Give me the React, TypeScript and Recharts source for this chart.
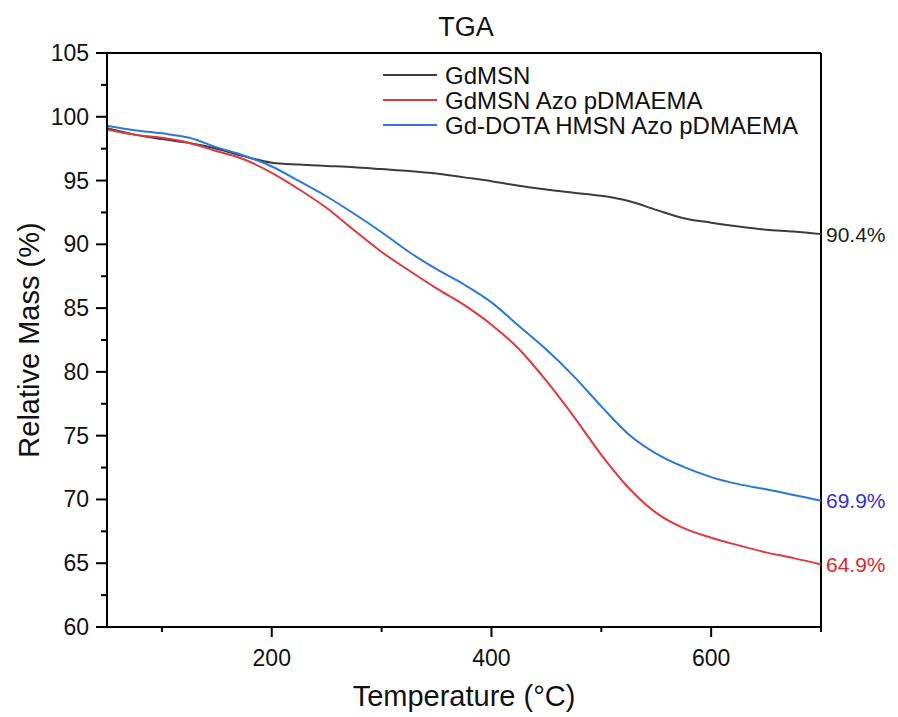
import React from "react"
import {
  LineChart,
  Line,
  XAxis,
  YAxis,
  ReferenceLine,
  ReferenceDot,
  Legend,
} from "recharts"

// temperature grid (°C)
const temps = [
  50, 75, 100, 125, 150, 175, 200, 225, 250, 275, 300, 325, 350, 375, 400,
  425, 450, 475, 500, 525, 550, 575, 600, 625, 650, 675, 700,
]

// relative mass (%)
const gdmsn = [
  99.1, 98.6, 98.25, 97.95, 97.5, 96.9, 96.4, 96.25, 96.15, 96.05, 95.9, 95.75,
  95.55, 95.25, 94.95, 94.6, 94.3, 94.05, 93.8, 93.4, 92.7, 92.05, 91.7, 91.4,
  91.15, 91.0, 90.8,
]
const gdmsnAzo = [
  99.0, 98.6, 98.35, 97.95, 97.3, 96.65, 95.6, 94.3, 92.85, 91.1, 89.4, 87.95,
  86.55, 85.25, 83.7, 81.8, 79.3, 76.5, 73.5, 70.9, 68.95, 67.75, 67.0, 66.4,
  65.85, 65.4, 64.9,
]
const gdDota = [
  99.3, 98.95, 98.7, 98.35, 97.6, 96.95, 96.1, 94.95, 93.75, 92.4, 90.95, 89.4,
  88.05, 86.85, 85.45, 83.6, 81.75, 79.65, 77.3, 75.1, 73.6, 72.55, 71.75, 71.2,
  70.8, 70.35, 69.9,
]

const seriesNames = ["GdMSN", "GdMSN Azo pDMAEMA", "Gd-DOTA HMSN Azo pDMAEMA"]
const seriesColors = ["#3c3c3c", "#e2383b", "#2a78dc"]
const endLabels = ["90.4%", "64.9%", "69.9%"]
const endLabelColors = ["#1e1e1e", "#e0262a", "#2f2fd6"]

const xTicks = [100, 200, 300, 400, 500, 600, 700]
const xMajor = [200, 400, 600]
const yTicks = [
  60, 62.5, 65, 67.5, 70, 72.5, 75, 77.5, 80, 82.5, 85, 87.5, 90, 92.5, 95,
  97.5, 100, 102.5, 105,
]

const data = temps.map((t, i) => ({
  t,
  a: gdmsn[i],
  b: gdmsnAzo[i],
  c: gdDota[i],
}))

const FONT = '"Liberation Sans", Arial, sans-serif'

const YTick = ({ x, y, payload }: any) => {
  const major = payload.value % 5 === 0
  return (
    <g>
      <line x1={x - (major ? 11 : 6)} x2={x} y1={y} y2={y} stroke="#000" strokeWidth={2} />
      {major && (
        <text x={x - 18} y={y} textAnchor="end" dominantBaseline="central" fontSize={23} fill="#111" fontFamily={FONT}>
          {payload.value}
        </text>
      )}
    </g>
  )
}

const XTick = ({ x, y, payload }: any) => {
  const major = xMajor.includes(payload.value)
  return (
    <g>
      <line x1={x} x2={x} y1={y} y2={y + (major ? 10 : 5)} stroke="#000" strokeWidth={2} />
      {major && (
        <text x={x} y={y + 39} textAnchor="middle" fontSize={23} fill="#111" fontFamily={FONT}>
          {payload.value}
        </text>
      )}
    </g>
  )
}

const LegendBox = () => (
  <svg width={460} height={80}>
    {seriesNames.map((n, i) => (
      <g key={n}>
        <line x1={0} x2={54} y1={12 + 25 * i} y2={12 + 25 * i} stroke={seriesColors[i]} strokeWidth={2} />
        <text x={62} y={12 + 25 * i} dominantBaseline="central" fontSize={24} fill="#111" fontFamily={FONT}>
          {n}
        </text>
      </g>
    ))}
  </svg>
)

const endLabel = (i: number) => ({ viewBox }: any) => (
  <text
    x={viewBox.x + 5}
    y={viewBox.y}
    dominantBaseline="central"
    fontSize={21}
    fill={endLabelColors[i]}
    fontFamily={FONT}
  >
    {endLabels[i]}
  </text>
)

export default function App() {
  const last = temps.length - 1
  const ends = [gdmsn[last], gdmsnAzo[last], gdDota[last]]
  return (
    <div style={{ position: "absolute", left: 0, top: 0, width: 898, height: 717, background: "#fff", fontFamily: FONT }}>
      <div style={{ position: "absolute", left: 0, width: 932, top: 12, textAlign: "center", fontSize: 27, color: "#111" }}>
        TGA
      </div>
      <LineChart
        width={898}
        height={717}
        data={data}
        margin={{ top: 53, right: 77, left: 47, bottom: 30 }}
      >
        <XAxis
          dataKey="t"
          type="number"
          domain={[50, 700]}
          ticks={xTicks}
          tick={<XTick />}
          tickSize={0}
          tickMargin={0}
          tickLine={false}
          height={60}
          axisLine={{ stroke: "#000", strokeWidth: 2 }}
          label={{
            content: ({ viewBox }: any) => (
              <text x={viewBox.x + viewBox.width / 2} y={706} textAnchor="middle" fontSize={29} fill="#111" fontFamily={FONT}>
                Temperature (°C)
              </text>
            ),
          }}
        />
        <YAxis
          type="number"
          domain={[60, 105]}
          ticks={yTicks}
          tick={<YTick />}
          tickSize={0}
          tickMargin={0}
          tickLine={false}
          width={60}
          interval={0}
          axisLine={{ stroke: "#000", strokeWidth: 2 }}
          label={{
            content: ({ viewBox }: any) => {
              const cy = viewBox.y + viewBox.height / 2
              return (
                <text x={39} y={cy} transform={`rotate(-90, 39, ${cy})`} textAnchor="middle" fontSize={29} fill="#111" fontFamily={FONT}>
                  Relative Mass (%)
                </text>
              )
            },
          }}
        />
        <ReferenceLine y={105} stroke="#000" strokeWidth={2} />
        <ReferenceLine x={700} stroke="#000" strokeWidth={2} />
        <Legend
          layout="vertical"
          align="center"
          verticalAlign="middle"
          content={<LegendBox />}
          wrapperStyle={{ position: "absolute", left: 383, top: 63, width: 460 }}
        />
        <Line type="monotone" dataKey="a" name={seriesNames[0]} stroke={seriesColors[0]} strokeWidth={2} dot={false} isAnimationActive={false} />
        <Line type="monotone" dataKey="b" name={seriesNames[1]} stroke={seriesColors[1]} strokeWidth={2} dot={false} isAnimationActive={false} />
        <Line type="monotone" dataKey="c" name={seriesNames[2]} stroke={seriesColors[2]} strokeWidth={2} dot={false} isAnimationActive={false} />
        {ends.map((v, i) => (
          <ReferenceDot key={i} x={700} y={v} r={0} stroke="none" label={{ content: endLabel(i) }} />
        ))}
      </LineChart>
    </div>
  )
}
